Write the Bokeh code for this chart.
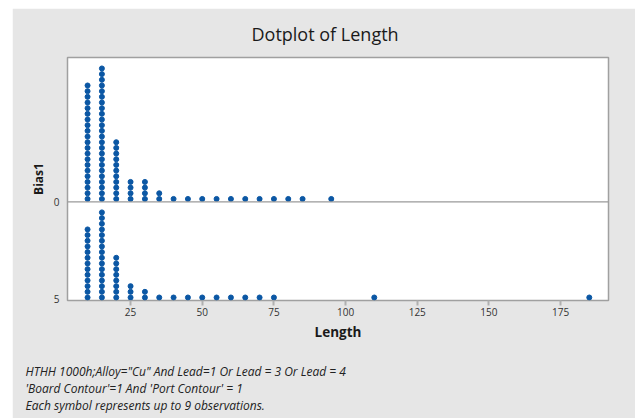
from bokeh.plotting import figure
from bokeh.models import Range1d, FixedTicker, Title, Span, ColumnDataSource
from bokeh.embed import file_html
from bokeh.resources import INLINE

# ---- data (symbols per bin; each symbol represents up to 9 observations) ----
bins_top = [10, 15, 20, 25, 30, 35, 40, 45, 50, 55, 60, 65, 70, 75, 80, 85, 95]
counts_top = [21, 24, 11, 4, 4, 2, 1, 1, 1, 1, 1, 1, 1, 1, 1, 1, 1]
bins_bottom = [10, 15, 20, 25, 30, 35, 40, 45, 50, 55, 60, 65, 70, 75, 110, 185]
counts_bottom = [13, 16, 8, 3, 2, 1, 1, 1, 1, 1, 1, 1, 1, 1, 1, 1]
group_labels = ["0", "5"]
x_ticks = [25, 50, 75, 100, 125, 150, 175]
footnotes = [
    "HTHH 1000h;Alloy=\"Cu\" And Lead=1 Or Lead = 3 Or Lead = 4",
    "'Board Contour'=1 And 'Port Contour' = 1",
    "Each symbol represents up to 9 observations.",
]

# stacking layout (in stack units)
TOP_OFFSET = 17.37
DIVIDER = 16.84

xs, ys = [], []
for b, c in zip(bins_bottom, counts_bottom):
    for k in range(c):
        xs.append(b); ys.append(k)
for b, c in zip(bins_top, counts_top):
    for k in range(c):
        xs.append(b); ys.append(TOP_OFFSET + k)

FONT = "Open Sans"
BG = "#e6e6e6"
DOT = "#0b57a4"

p = figure(width=623, height=410, output_backend="svg", toolbar_location=None,
           x_range=Range1d(3.0, 191.7), y_range=Range1d(-0.53, 42.3),
           min_border_left=55, min_border_right=27, min_border_top=48,
           min_border_bottom=118, margin=(8, 3, 0, 12))
p.background_fill_color = "white"
p.border_fill_color = BG
p.outline_line_color = "#a0a0a0"
p.outline_line_width = 1.5
p.grid.visible = False

p.title.text = "Dotplot of Length"
p.title.align = "left"
p.title.offset = 184
p.title.text_font = FONT
p.title.text_font_size = "18px"
p.title.text_font_style = "normal"
p.title.text_color = "#1a1a1a"
p.title.standoff = 23

src = ColumnDataSource(dict(x=xs, y=ys))
p.scatter("x", "y", source=src, marker="circle", size=5,
          fill_color=DOT, line_color=DOT)

p.add_layout(Span(location=DIVIDER, dimension="width",
                  line_color="#9a9a9a", line_width=1.2))

xa = p.xaxis[0]
xa.ticker = FixedTicker(ticks=x_ticks)
xa.axis_line_color = None
xa.major_tick_line_color = "#b0b0b0"
xa.major_tick_line_width = 2
xa.major_tick_in = 0
xa.major_tick_out = 5
xa.minor_tick_line_color = None
xa.major_label_text_font = FONT
xa.major_label_text_font_size = "10px"
xa.major_label_text_color = "#333333"
xa.major_label_standoff = 2
xa.axis_label = "Length"
xa.axis_label_text_font = FONT
xa.axis_label_text_font_size = "13.5px"
xa.axis_label_text_font_style = "bold"
xa.axis_label_text_color = "#1a1a1a"
xa.axis_label_standoff = 4

ya = p.yaxis[0]
ya.ticker = FixedTicker(ticks=[DIVIDER, -0.3])
ya.major_label_overrides = {DIVIDER: group_labels[0], -0.3: group_labels[1]}
ya.axis_line_color = None
ya.major_tick_line_color = None
ya.minor_tick_line_color = None
ya.major_label_orientation = 0
ya.major_label_text_font = FONT
ya.major_label_text_font_size = "10px"
ya.major_label_text_color = "#333333"
ya.major_label_standoff = 2
ya.axis_label = "Bias1"
ya.axis_label_text_font = FONT
ya.axis_label_text_font_size = "12px"
ya.axis_label_text_font_style = "bold"
ya.axis_label_text_color = "#1a1a1a"
ya.axis_label_standoff = 4

# spacer between axis label and footnotes
p.add_layout(Title(text=" ", text_font_size="1px", standoff=15), "below")
for line in footnotes:
    t = Title(text=line, align="left", text_font=FONT, text_font_size="12px",
              text_font_style="italic", text_color="#222222",
              offset=-42, standoff=-2)
    p.add_layout(t, "below")

open("out.html", "w").write(file_html(p, INLINE))
